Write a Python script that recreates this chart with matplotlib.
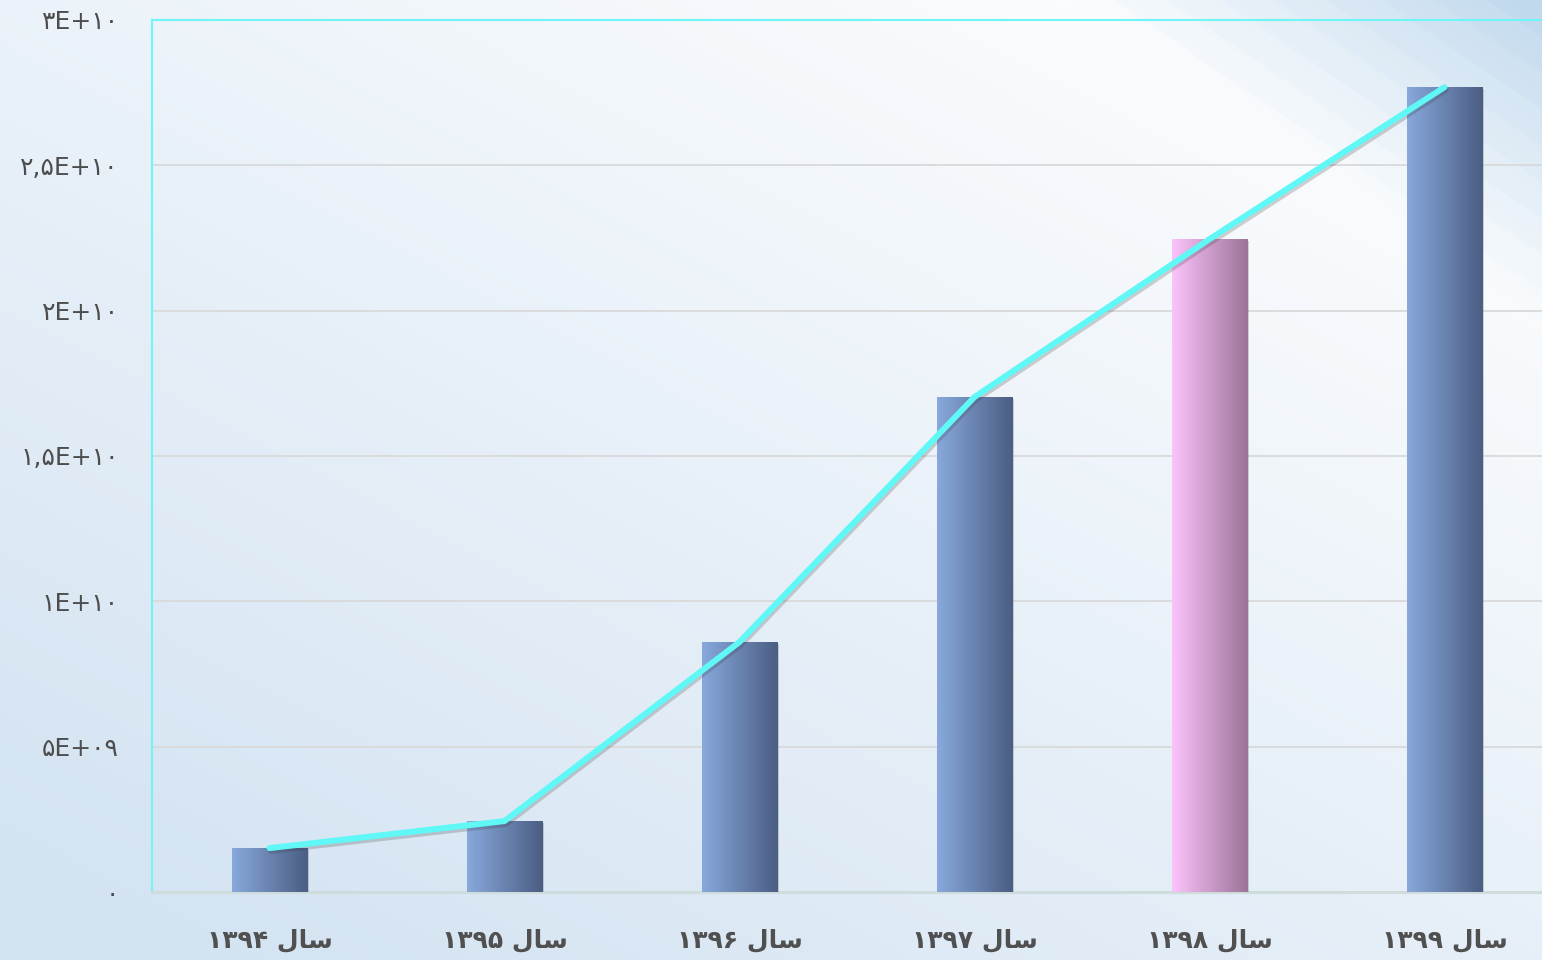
import numpy as np
import matplotlib
matplotlib.use("Agg")
import matplotlib.pyplot as plt
import matplotlib.patheffects as pe
from matplotlib.colors import to_rgb

# values
years = ['۱۳۹۴', '۱۳۹۵', '۱۳۹۶', '۱۳۹۷', '۱۳۹۸', '۱۳۹۹']
values = [1.51e9, 2.44e9, 8.6e9, 17.03e9, 22.46e9, 27.69e9]
highlight = 4  # pink bar

yticks = [0, 5e9, 1e10, 1.5e10, 2e10, 2.5e10, 3e10]
ytick_labels = ['۰', '۵E+۰۹', '۱E+۱۰', '۱,۵E+۱۰', '۲E+۱۰', '۲,۵E+۱۰', '۳E+۱۰']

# "سال" in presentation forms, visual order (no shaping in matplotlib)
sal = '\uFEDD\uFE8E\uFEB3'
xtick_labels = [y + ' ' + sal for y in years]

W, H = 1542, 960
fig = plt.figure(figsize=(W / 100, H / 100), dpi=100)

# background gradient
bg = fig.add_axes([0, 0, 1, 1], zorder=0)
xx, yy = np.meshgrid(np.arange(W), np.arange(H))
u = xx / W
v = yy / H
t = np.clip(0.6 * v + 0.5 * (1 - u) - 0.05, 0, 1)
white = np.array([1.0, 1.0, 1.0])
blue = np.array(to_rgb('#d3e3f2'))
img = white[None, None, :] + (blue - white)[None, None, :] * t[..., None]
# streaks in the upper right corner
g = ((xx - 1060) * 300 - yy * 442) / 534.0
g = np.clip(g / 270.0, 0, 1)
streak = np.floor(g * 9) / 9 * 0.6 + g * 0.4
corner = np.array(to_rgb('#bcd6ec'))
img = img + (corner - img) * streak[..., None]
bg.imshow(img, aspect='auto', extent=[0, 1, 0, 1], origin='upper')
bg.set_axis_off()

ax = fig.add_axes([152 / W, 68 / H, 1410 / W, 872 / H], zorder=1)
ax.patch.set_alpha(0)

x = np.arange(len(years))
bw = 0.32
bars = ax.bar(x, values, width=bw, color='#6f8bbd', zorder=3, linewidth=0)
for i, b in enumerate(bars):
    if i == highlight:
        c0, c1 = '#fbc3fa', '#9c7499'
    else:
        c0, c1 = '#88a8dc', '#4b5e83'
    b.set_path_effects([pe.SimplePatchShadow(offset=(1.5, -1.5), shadow_rgbFace='#555555', alpha=0.25),
                        pe.Normal()])
    grad = np.linspace(0, 1, 64)[None, :, None]
    col = np.array(to_rgb(c0)) + (np.array(to_rgb(c1)) - np.array(to_rgb(c0))) * grad
    im = ax.imshow(col, aspect='auto', zorder=4,
                   extent=[b.get_x(), b.get_x() + b.get_width(), 0, b.get_height()])
    im.set_clip_path(b)

ax.plot(x, values, color='#5ff8f6', lw=4.3, solid_capstyle='round', solid_joinstyle='round', zorder=5,
        path_effects=[pe.SimpleLineShadow(offset=(1, -2), shadow_color='#333333', alpha=0.22),
                      pe.Normal()])

ax.set_xlim(-0.5, 5.5)
ax.set_ylim(0, 3e10)
ax.set_yticks(yticks)
ax.set_yticklabels(ytick_labels, fontsize=18, color='#4d4d4d')
ax.set_xticks(x)
ax.set_xticklabels(xtick_labels, fontsize=18, fontweight='bold', color='#505050')
ax.tick_params(axis='y', length=0, pad=24)
ax.tick_params(axis='x', length=0, pad=26)

ax.grid(axis='y', color='#d9d9d9', lw=1.3, zorder=1)
ax.set_axisbelow(True)
ax.spines['left'].set_color('#6ff5f5')
ax.spines['left'].set_linewidth(1.5)
ax.spines['top'].set_color('#6ff5f5')
ax.spines['top'].set_linewidth(1.5)
ax.spines['bottom'].set_color('#cfdcdc')
ax.spines['bottom'].set_linewidth(2.2)
ax.spines['right'].set_visible(False)

fig.savefig('out.png', dpi=100)
